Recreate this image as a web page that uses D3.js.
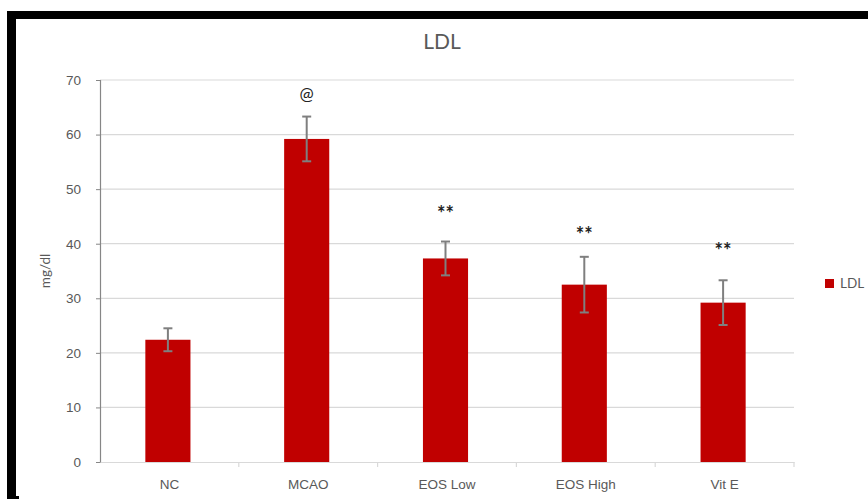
<!DOCTYPE html>
<html>
<head>
<meta charset="utf-8">
<script src="https://cdn.jsdelivr.net/npm/d3@7"></script>
<style>
  html, body { margin: 0; padding: 0; background: #fff; }
  svg { display: block; font-family: Lato, "Open Sans", "Liberation Sans", sans-serif; }
</style>
</head>
<body>
<svg id="chart" width="868" height="500"></svg>
<script>
// LDL levels per group (mg/dl), with standard errors
const categories = ["NC", "MCAO", "EOS Low", "EOS High", "Vit E"];
const ldlValues = [22.4, 59.2, 37.3, 32.5, 29.2];
const ldlErrors = [2.1, 4.1, 3.1, 5.1, 4.1];
// significance marks and the level (mg/dl) they are written at
const sigMarks = ["", "@", "**", "**", "**"];
const sigLevels = [0, 67.6, 46.7, 42.9, 39.9];
const yTicks = [0, 10, 20, 30, 40, 50, 60, 70];
const seriesName = "LDL";

const svg = d3.select("#chart");
const textColor = "#595959";
const barColor = "#c00000";

// frame around the figure
svg.append("rect").attr("x", 7).attr("y", 11).attr("width", 861).attr("height", 8).attr("fill", "#000");
svg.append("rect").attr("x", 7).attr("y", 11).attr("width", 9).attr("height", 488).attr("fill", "#000");
svg.append("rect").attr("x", 7).attr("y", 496).attr("width", 12).attr("height", 3).attr("fill", "#000");

const plot = { left: 100, right: 794, top: 80, bottom: 462 };

const x = d3.scaleBand().domain(categories).range([plot.left, plot.right]).padding(0);
const y = d3.scaleLinear().domain([0, 70]).range([plot.bottom, plot.top]);

// gridlines
svg.append("g")
  .selectAll("line")
  .data(yTicks.filter(t => t > 0))
  .join("line")
  .attr("x1", plot.left).attr("x2", plot.right)
  .attr("y1", d => y(d)).attr("y2", d => y(d))
  .attr("stroke", "#d9d9d9").attr("stroke-width", 1.2);

// y axis
const yAxis = svg.append("g")
  .attr("transform", `translate(${plot.left},0)`)
  .call(d3.axisLeft(y).tickValues(yTicks).tickSize(4).tickPadding(15).tickFormat(d3.format("d")));
yAxis.select(".domain").attr("stroke", "#868686").attr("stroke-width", 1.2);
yAxis.selectAll(".tick line").attr("stroke", "#868686");
yAxis.selectAll(".tick text").attr("fill", textColor).style("font-size", "13.5px");

// x axis
const xAxis = svg.append("g")
  .attr("transform", `translate(0,${plot.bottom})`)
  .call(d3.axisBottom(x).tickSize(0).tickPadding(17));
xAxis.select(".domain").attr("stroke", "#d9d9d9").attr("stroke-width", 1.2);
xAxis.selectAll(".tick text").attr("fill", textColor).style("font-size", "13.5px");
// category separators
svg.append("g")
  .selectAll("line")
  .data(d3.range(1, categories.length + 1))
  .join("line")
  .attr("x1", i => plot.left + x.step() * i)
  .attr("x2", i => plot.left + x.step() * i)
  .attr("y1", plot.bottom).attr("y2", plot.bottom + 5)
  .attr("stroke", "#d9d9d9").attr("stroke-width", 1.2);

// bars
const barW = x.bandwidth() * 0.325;
const cx = c => x(c) + x.bandwidth() / 2 - 1.5;
svg.append("g")
  .selectAll("rect")
  .data(categories)
  .join("rect")
  .attr("x", c => cx(c) - barW / 2)
  .attr("width", barW)
  .attr("y", (c, i) => y(ldlValues[i]))
  .attr("height", (c, i) => y(0) - y(ldlValues[i]))
  .attr("fill", barColor);

// error bars
const eb = svg.append("g").attr("stroke", "#7f7f7f").attr("stroke-width", 2);
categories.forEach((c, i) => {
  const hi = y(ldlValues[i] + ldlErrors[i]);
  const lo = y(ldlValues[i] - ldlErrors[i]);
  eb.append("line").attr("x1", cx(c)).attr("x2", cx(c)).attr("y1", hi).attr("y2", lo);
  eb.append("line").attr("x1", cx(c) - 4.5).attr("x2", cx(c) + 4.5).attr("y1", hi).attr("y2", hi);
  eb.append("line").attr("x1", cx(c) - 4.5).attr("x2", cx(c) + 4.5).attr("y1", lo).attr("y2", lo);
});

// significance marks
svg.append("g")
  .selectAll("text")
  .data(categories)
  .join("text")
  .attr("x", c => cx(c))
  .attr("y", (c, i) => y(sigLevels[i]))
  .attr("text-anchor", "middle")
  .attr("dominant-baseline", "central")
  .attr("fill", "#222")
  .style("font-size", (c, i) => sigMarks[i] === "@" ? "17px" : "20px")
  .style("font-weight", (c, i) => sigMarks[i] === "@" ? "normal" : "bold")
  .attr("dy", (c, i) => sigMarks[i] === "@" ? "0" : "0.3em")
  .text((c, i) => sigMarks[i]);

// title
svg.append("text")
  .attr("x", 442).attr("y", 49)
  .attr("text-anchor", "middle")
  .attr("fill", textColor)
  .style("font-size", "21px")
  .text("LDL");

// y axis title
svg.append("text")
  .attr("transform", `translate(50,${(plot.top + plot.bottom) / 2}) rotate(-90)`)
  .attr("text-anchor", "middle")
  .attr("fill", textColor)
  .style("font-size", "13.5px")
  .text("mg/dl");

// legend
svg.append("rect").attr("x", 825).attr("y", 279).attr("width", 9).attr("height", 9).attr("fill", barColor);
svg.append("text").attr("x", 840).attr("y", 288)
  .attr("fill", textColor).style("font-size", "13.5px").text(seriesName);
</script>
</body>
</html>
